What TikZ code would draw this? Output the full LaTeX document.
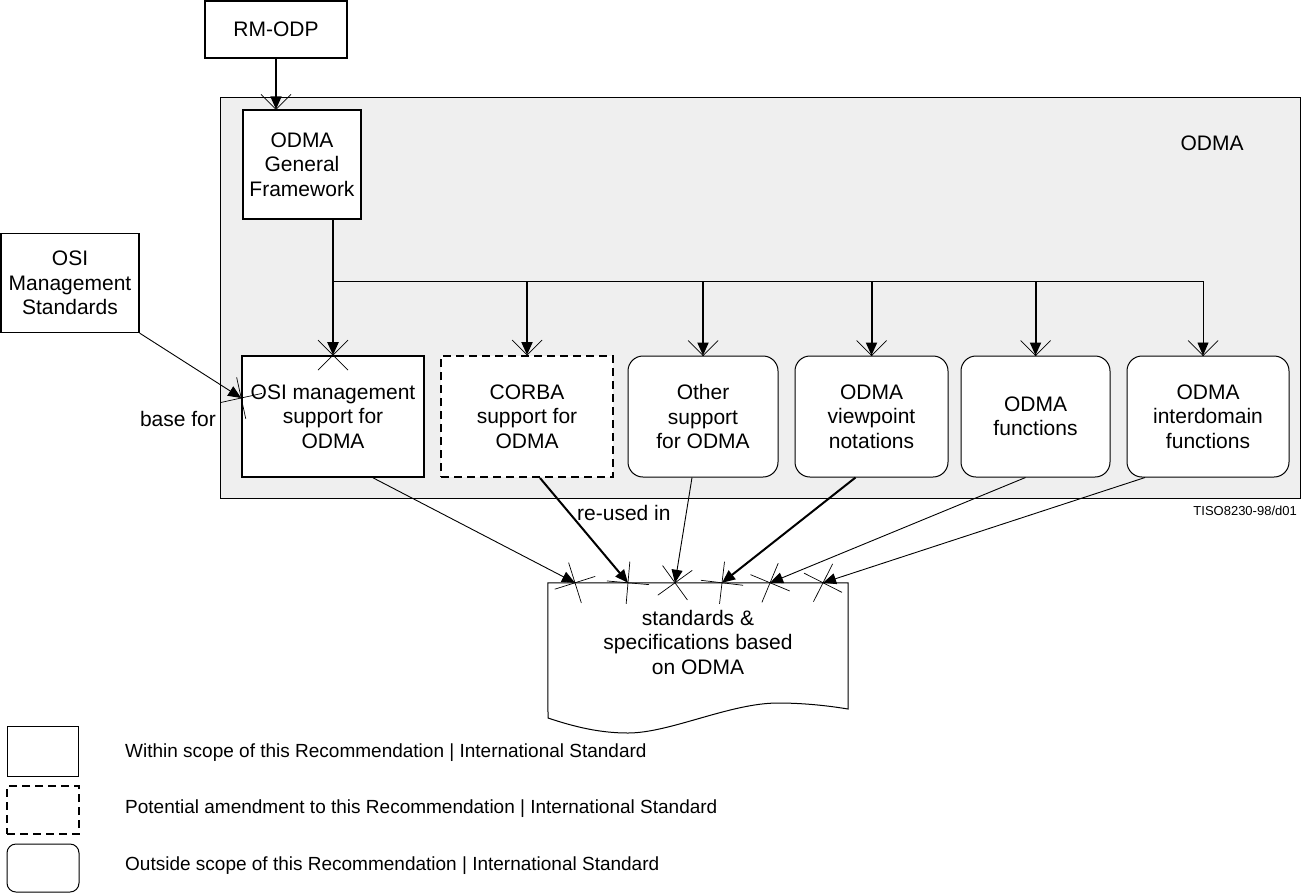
\documentclass[tikz,border=0pt]{standalone}
\usepackage{fontspec}
\setmainfont{Liberation Sans}
\usetikzlibrary{arrows.meta,decorations.markings}
\pgfdeclarelayer{back}
\pgfdeclarelayer{mid}
\pgfsetlayers{back,mid,main}
\newcommand{\boxfont}{\fontsize{21}{24.5}\selectfont}
\newcommand{\legfont}{\fontsize{19}{22}\selectfont}
\newcommand{\tinyfont}{\fontsize{13}{15}\selectfont}
\tikzset{
  box/.style={draw, line width=1.6pt, fill=white, align=center, font=\boxfont, inner sep=0pt},
  rbox/.style={box, line width=1pt, rounded corners=15pt},
  dbox/.style={box, dash pattern=on 8pt off 5pt, line width=2pt},
  xarrow/.style={-{Triangle[length=13pt,width=11pt]},
    postaction={decorate, decoration={markings, mark=at position 0.9999 with {\draw[line width=0.7pt, solid, -] (-15pt,-15pt)--(15pt,15pt) (-15pt,15pt)--(15pt,-15pt);}}}},
  thinline/.style={line width=0.9pt},
  thickline/.style={line width=2pt},
  lbl/.style={font=\boxfont, inner sep=0pt}
}
\begin{document}
\begin{tikzpicture}[x=1pt,y=-1pt]
\useasboundingbox (0,0) rectangle (1305,892);
% container
\begin{pgfonlayer}{back}
\draw[line width=1pt, fill={rgb,255:red,239;green,239;blue,239}] (220,97) rectangle (1300,498);
\end{pgfonlayer}
\node[lbl] (odmalbl) at (1212,143) {ODMA};
% top boxes
\node[box, line width=1.2pt, minimum width=142pt, minimum height=57pt] (rmodp) at (276,29.5) {RM-ODP};
\node[box, line width=1.2pt, minimum width=118pt, minimum height=109pt] (gf) at (302,164.5) {ODMA\\General\\Framework};
\node[box, line width=1.2pt, minimum width=138pt, minimum height=99pt] (osistd) at (70,283) {OSI\\Management\\Standards};
% bottom boxes
\node[box, minimum width=182pt, minimum height=121pt] (osi) at (333,416.5) {OSI management\\support for\\ODMA};
\node[dbox, minimum width=172pt, minimum height=121pt] (corba) at (527,416.5) {CORBA\\support for\\ODMA};
\node[rbox, minimum width=150pt, minimum height=121pt] (other) at (703,416.5) {Other\\support\\for ODMA};
\node[rbox, minimum width=153pt, minimum height=121pt] (view) at (871.5,416.5) {ODMA\\viewpoint\\notations};
\node[rbox, minimum width=149pt, minimum height=121pt] (func) at (1035.5,416.5) {ODMA\\functions};
\node[rbox, minimum width=162pt, minimum height=121pt] (inter) at (1208,416.5) {ODMA\\interdomain\\functions};
% document
\node[inner sep=0pt, minimum width=300pt, minimum height=130pt] (doc) at (698,648) {};
\draw[line width=1pt, fill=white] (doc.north west) -- (doc.north east) -- (848,709)
  .. controls (830,706) and (805,703) .. (778,703)
  .. controls (730,703) and (670,733) .. (628,733)
  .. controls (600,733) and (575,727) .. (548,718) -- cycle;
\node[inner sep=0pt, align=center, font=\boxfont] (doctext) at (698,642) {standards \&\\specifications based\\on ODMA};
% connectors
\coordinate (bus) at (0,281);
\begin{pgfonlayer}{mid}
\draw[xarrow, line width=1.5pt] (rmodp.south) -- (rmodp.south |- gf.north);
\draw[thinline] (osi.north |- bus) -- ([xshift=-5pt]inter.north |- bus);
\draw[xarrow, thickline] (corba.north |- bus) -- (corba.north);
\draw[xarrow, thickline] (other.north |- bus) -- (other.north);
\draw[xarrow, thickline] (view.north |- bus) -- (view.north);
\draw[xarrow, thickline] (func.north |- bus) -- (func.north);
\draw[xarrow, thinline] ([xshift=-5pt]inter.north |- bus) -- ([xshift=-5pt]inter.north);
\end{pgfonlayer}
\draw[xarrow, thickline] (osi.north |- gf.south) -- (osi.north);
\draw[xarrow, thinline] (osistd.south east) -- (osi.west |- 0,398);
\node[lbl] (basefor) at (178,419) {base for};
\draw[xarrow, thinline] ([xshift=40pt]osi.south) -- ([xshift=-123pt]doc.north);
\draw[xarrow, thickline] ([xshift=13pt]corba.south) -- ([xshift=-70pt]doc.north);
\draw[xarrow, thinline] ([xshift=-11pt]other.south) -- ([xshift=-23pt]doc.north);
\draw[xarrow, thickline] ([xshift=-16pt]view.south) -- ([xshift=24pt]doc.north);
\draw[xarrow, thinline] ([xshift=-10pt]func.south) -- ([xshift=72pt]doc.north);
\draw[xarrow, thinline] ([xshift=-63pt]inter.south) -- ([xshift=125pt]doc.north);
\node[lbl, anchor=west] (reused) at (577,513) {re-used in};
\node[font=\tinyfont, inner sep=0pt, anchor=east] (tiso) at (1297,511) {TISO8230-98/d01};
% legend
\node[box, line width=1pt, minimum width=71pt, minimum height=50pt] (leg1) at (43,751) {};
\node[dbox, minimum width=72pt, minimum height=48pt] (leg2) at (43,810) {};
\node[rbox, minimum width=72pt, minimum height=48pt, rounded corners=9pt] (leg3) at (43,868) {};
\node[font=\legfont, inner sep=0pt, anchor=west] (t1) at (125,753) {Within scope of this Recommendation | International Standard};
\node[font=\legfont, inner sep=0pt, anchor=west] (t2) at (125,809) {Potential amendment to this Recommendation | International Standard};
\node[font=\legfont, inner sep=0pt, anchor=west] (t3) at (125,866) {Outside scope of this Recommendation | International Standard};
\end{tikzpicture}
\end{document}
